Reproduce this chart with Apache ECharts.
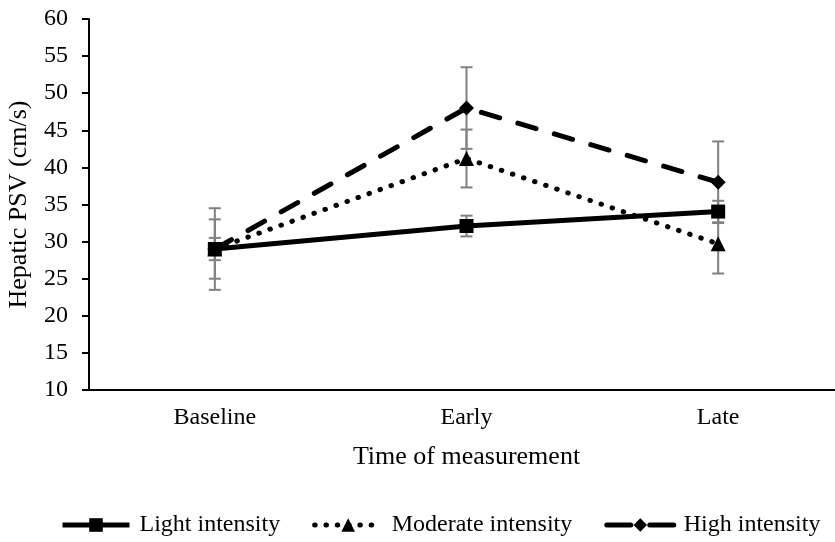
<!DOCTYPE html>
<html><head><meta charset="utf-8">
<script src="https://cdn.jsdelivr.net/npm/echarts@6/dist/echarts.min.js"></script>
<style>html,body{margin:0;padding:0;background:#fff}#c{width:835px;height:542px}</style>
</head><body><div id="c"></div>
<script>
const categories = ['Baseline', 'Early', 'Late'];
const lightVals = [29, 32.1, 34.05];
const lightErr = [1.5, 1.4, 1.45];
const moderateVals = [29, 41.2, 29.7];
const moderateErr = [4, 3.9, 4];
const highVals = [29, 48, 38];
const highErr = [5.5, 5.5, 5.5];
const seriesNames = ['Light intensity', 'Moderate intensity', 'High intensity'];

const FONT = '"Liberation Serif", "Times New Roman", serif';

function errData(vals, errs) {
  return vals.map((v, i) => [i, v - errs[i], v + errs[i]]);
}
function errSeries(vals, errs) {
  return {
    type: 'custom', z: 1, silent: true,
    data: errData(vals, errs),
    renderItem: function (params, api) {
      const lo = api.coord([api.value(0), api.value(1)]);
      const hi = api.coord([api.value(0), api.value(2)]);
      const hw = 6;
      const st = { stroke: '#808080', lineWidth: 2 };
      return { type: 'group', children: [
        { type: 'line', shape: { x1: lo[0], y1: lo[1], x2: hi[0], y2: hi[1] }, style: st },
        { type: 'line', shape: { x1: lo[0] - hw, y1: lo[1], x2: lo[0] + hw, y2: lo[1] }, style: st },
        { type: 'line', shape: { x1: hi[0] - hw, y1: hi[1], x2: hi[0] + hw, y2: hi[1] }, style: st }
      ]};
    }
  };
}

const lightLine = { color: '#000', width: 5, type: 'solid' };
const moderateLine = { color: '#000', width: 5, type: [0.5, 11.2], cap: 'round' };
const highLine = { color: '#000', width: 5, type: [19, 19], cap: 'round' };

const chart = echarts.init(document.getElementById('c'), null, { renderer: 'canvas' });
chart.setOption({
  animation: false,
  backgroundColor: '#fff',
  textStyle: { fontFamily: FONT, color: '#000' },
  grid: { left: 89, top: 19, width: 755, bottom: 152, containLabel: false, outerBoundsMode: 'none' },
  legend: {
    data: [
      { name: seriesNames[0], lineStyle: { color: '#000', width: 5, type: 'solid' } },
      { name: seriesNames[1], lineStyle: { color: '#000', width: 5, type: [0.5, 10.8], cap: 'round' } },
      { name: seriesNames[2], lineStyle: { color: '#000', width: 5, type: [24, 19], cap: 'round' } }
    ],
    left: 55, top: 508,
    itemWidth: 67, itemHeight: 17, itemGap: 32,
    textStyle: { fontFamily: FONT, fontSize: 24, color: '#000', padding: [0, 0, 0, 5] }
  },
  xAxis: {
    type: 'category', data: categories, boundaryGap: true,
    name: 'Time of measurement', nameLocation: 'middle', nameGap: 54,
    nameTextStyle: { fontFamily: FONT, fontSize: 26, color: '#000' },
    axisLine: { lineStyle: { color: '#000', width: 2 } },
    axisTick: { alignWithLabel: true, length: 5, lineStyle: { color: '#000', width: 2 } },
    axisLabel: { fontFamily: FONT, fontSize: 24, color: '#000', margin: 16 },
    splitLine: { show: false }
  },
  yAxis: {
    type: 'value', min: 10, max: 60, interval: 5,
    name: 'Hepatic PSV (cm/s)', nameLocation: 'middle', nameGap: 57,
    nameTextStyle: { fontFamily: FONT, fontSize: 26, color: '#000' },
    axisLine: { show: true, lineStyle: { color: '#000', width: 2 } },
    axisTick: { show: true, length: 7, lineStyle: { color: '#000', width: 2 } },
    axisLabel: { fontFamily: FONT, fontSize: 24, color: '#000', margin: 21 },
    splitLine: { show: false }
  },
  series: [
    errSeries(lightVals, lightErr),
    errSeries(moderateVals, moderateErr),
    errSeries(highVals, highErr),
    {
      name: seriesNames[0], type: 'line', z: 3, data: lightVals,
      symbol: 'rect', symbolSize: 14,
      itemStyle: { color: '#000' },
      lineStyle: lightLine
    },
    {
      name: seriesNames[1], type: 'line', z: 3, data: moderateVals,
      symbol: 'triangle', symbolSize: 15,
      itemStyle: { color: '#000' },
      lineStyle: moderateLine
    },
    {
      name: seriesNames[2], type: 'line', z: 3, data: highVals,
      symbol: 'diamond', symbolSize: 15,
      itemStyle: { color: '#000' },
      lineStyle: highLine
    }
  ]
});
</script></body></html>
